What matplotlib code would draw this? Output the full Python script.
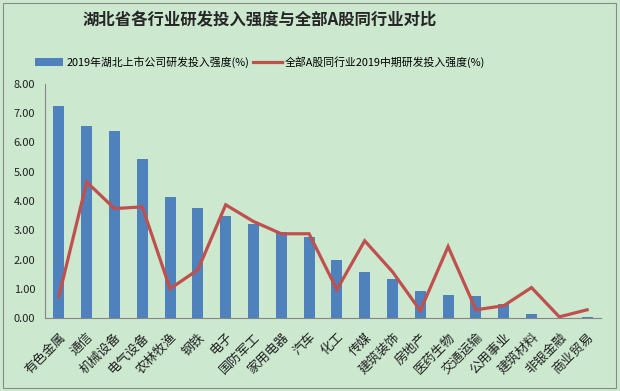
import matplotlib
matplotlib.use("Agg")
import matplotlib.pyplot as plt
from matplotlib.patches import Rectangle

plt.rcParams['font.family'] = ['Noto Sans CJK SC', 'DejaVu Sans']

categories = ["有色金属", "通信", "机械设备", "电气设备", "农林牧渔", "钢铁", "电子",
              "国防军工", "家用电器", "汽车", "化工", "传媒", "建筑装饰", "房地产",
              "医药生物", "交通运输", "公用事业", "建筑材料", "非银金融", "商业贸易"]
hubei = [7.26, 6.57, 6.40, 5.44, 4.15, 3.77, 3.50, 3.22, 2.94, 2.78,
         1.99, 1.58, 1.34, 0.93, 0.80, 0.76, 0.49, 0.15, 0.01, 0.04]
a_share = [0.74, 4.65, 3.74, 3.80, 1.00, 1.65, 3.87, 3.30, 2.88, 2.88,
           0.97, 2.64, 1.58, 0.25, 2.44, 0.28, 0.42, 1.04, 0.04, 0.28]
yticks = [0, 1, 2, 3, 4, 5, 6, 7, 8]

title = "湖北省各行业研发投入强度与全部A股同行业对比"
label_bar = "2019年湖北上市公司研发投入强度(%)"
label_line = "全部A股同行业2019中期研发投入强度(%)"

bg = "#cce8cf"
fig = plt.figure(figsize=(6.2, 3.91), dpi=100, facecolor=bg)
ax = fig.add_axes([45/620, 1-318/391, (601-45)/620, (318-84)/391])
ax.set_facecolor(bg)

x = list(range(len(categories)))
bars = ax.bar(x, hubei, width=0.4, color="#4f81bd", label=label_bar, zorder=2)
line, = ax.plot(x, a_share, color="#c0504d", linewidth=2.3, label=label_line, zorder=3,
                solid_joinstyle="miter")

ax.set_xlim(-0.5, len(categories) - 0.5)
ax.set_ylim(0, 8)
ax.set_yticks(yticks)
ax.set_yticklabels([f"{v:.2f}" for v in yticks], fontsize=8, color="#222222")
ax.set_xticks(x)
ax.set_xticklabels(categories, rotation=45, ha="right", rotation_mode="anchor",
                   fontsize=9.3, color="#222222")
ax.tick_params(axis="y", length=0, pad=7)
ax.tick_params(axis="x", length=0, pad=9)
for s in ["top", "right"]:
    ax.spines[s].set_visible(False)
for s in ["left", "bottom"]:
    ax.spines[s].set_color("#868686")
    ax.spines[s].set_linewidth(0.8)

fig.text(260/620, 1-20/391, title, ha="center", va="center", fontsize=11.8,
         fontweight="bold", color="#262626")

leg = fig.legend([bars, line], [label_bar, label_line], loc="center",
                 bbox_to_anchor=(260/620, 1-62/391),
                 ncol=2, frameon=False, fontsize=7.8, handlelength=2.6,
                 handleheight=0.8, handletextpad=0.3, columnspacing=0.4)

fig.patches.append(Rectangle((3/620, 3/391), 613/620, 385/391, transform=fig.transFigure,
                             fill=False, edgecolor="#8a8a8a", linewidth=0.8))

fig.savefig("out.png", dpi=100, facecolor=bg)
